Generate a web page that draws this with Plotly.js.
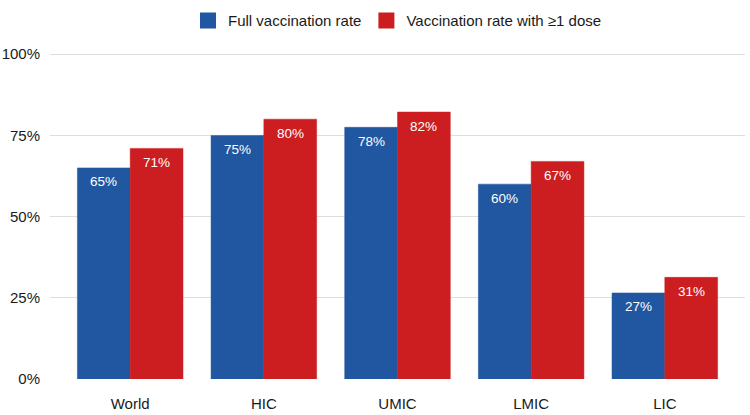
<!DOCTYPE html>
<html>
<head>
<meta charset="utf-8">
<script src="https://cdn.plot.ly/plotly-3.0.1.min.js"></script>
<style>
  html, body { margin: 0; padding: 0; background: #ffffff; }
  #chart { width: 750px; height: 415px; }
</style>
</head>
<body>
<div id="chart"></div>
<script>
// Datos del gráfico
const groups = ['World', 'HIC', 'UMIC', 'LMIC', 'LIC'];
const fullRate = [0.65, 0.75, 0.775, 0.60, 0.265];
const oneDoseRate = [0.71, 0.80, 0.822, 0.67, 0.313];
const fullLabels = ['65%', '75%', '78%', '60%', '27%'];
const oneDoseLabels = ['71%', '80%', '82%', '67%', '31%'];
const yTicks = [0, 0.25, 0.5, 0.75, 1];
const yTickLabels = ['0%', '25%', '50%', '75%', '100%'];

const BLUE = '#2157a0';
const RED = '#cc1e21';
const FONT = 'Liberation Sans, Arial, sans-serif';
const BAR_OFFSET = 26.4; // medio ancho de barra en px (barras agrupadas)

function barTrace(name, values, color) {
    return {
        type: 'bar',
        name: name,
        x: groups,
        y: values,
        marker: { color: color, line: { color: color, width: 0.5 } },
        showlegend: false,
        hoverinfo: 'skip',
    };
}

// Trazos solo para la leyenda (cuadrados más grandes que el de las barras)
function legendTrace(name, color) {
    return {
        type: 'scatter',
        mode: 'markers',
        name: name,
        x: [null],
        y: [null],
        marker: { symbol: 'square', size: 16, color: color },
        hoverinfo: 'skip',
    };
}

// Etiquetas blancas dentro de la parte superior de cada barra
function barLabels(values, labels, shift) {
    return values.map((v, i) => ({
        x: groups[i],
        y: v,
        text: labels[i],
        showarrow: false,
        xshift: shift,
        yshift: -14,
        yanchor: 'middle',
        font: { color: '#ffffff', size: 13.5, family: FONT },
    }));
}

const data = [
    barTrace('Full vaccination rate', fullRate, BLUE),
    barTrace('Vaccination rate with ≥1 dose', oneDoseRate, RED),
    legendTrace('Full vaccination rate', BLUE),
    legendTrace('Vaccination rate with ≥1 dose', RED),
];

const layout = {
    width: 750,
    height: 415,
    margin: { t: 38, r: 5, l: 50, b: 36 },
    paper_bgcolor: '#ffffff',
    plot_bgcolor: '#ffffff',
    font: { family: FONT, color: '#1a1a1a', size: 15 },
    barmode: 'group',
    bargap: 0.21,
    bargroupgap: 0,
    xaxis: {
        type: 'category',
        range: [-0.6, 4.6],
        showgrid: false,
        zeroline: false,
        showline: false,
        ticks: 'outside',
        ticklen: 11,
        tickcolor: 'rgba(0,0,0,0)',
        tickfont: { size: 15, color: '#1a1a1a' },
        fixedrange: true,
    },
    yaxis: {
        range: [0, 1.05],
        tickvals: yTicks,
        ticktext: yTickLabels,
        showgrid: true,
        gridcolor: '#dedede',
        gridwidth: 1,
        zeroline: false,
        showline: false,
        ticks: 'outside',
        ticklen: 6,
        tickcolor: 'rgba(0,0,0,0)',
        tickfont: { size: 15, color: '#1a1a1a' },
        fixedrange: true,
    },
    legend: {
        orientation: 'h',
        x: 0.5,
        xanchor: 'center',
        xref: 'paper',
        y: 0.99,
        yref: 'container',
        yanchor: 'top',
        font: { size: 15, color: '#1a1a1a' },
        itemwidth: 30,
        traceorder: 'normal',
    },
    annotations: [
        ...barLabels(fullRate, fullLabels, -BAR_OFFSET),
        ...barLabels(oneDoseRate, oneDoseLabels, BAR_OFFSET),
    ],
};

Plotly.newPlot('chart', data, layout, { displayModeBar: false, staticPlot: true });
</script>
</body>
</html>
